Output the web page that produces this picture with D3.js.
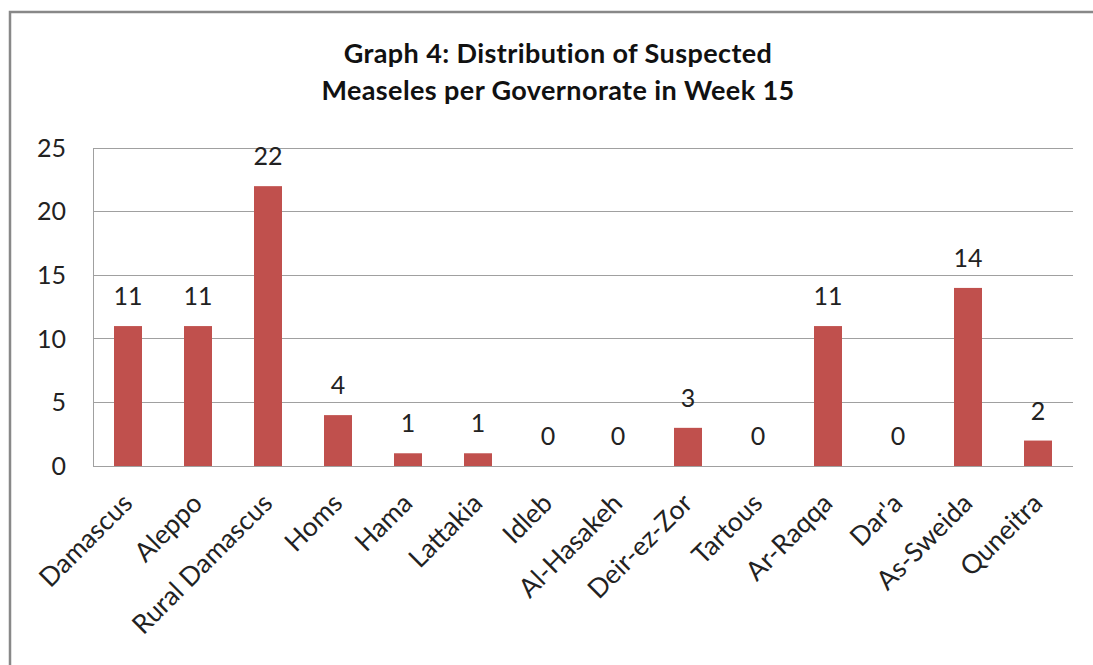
<!DOCTYPE html>
<html lang="en">
<head>
    <meta charset="UTF-8">
    <title>Graph 4: Distribution of Suspected Measeles per Governorate in Week 15</title>
    <style>
        body {
            margin: 0;
            background-color: #ffffff;
            font-family: Lato, "Open Sans", sans-serif;
        }
        .grid line, .grid path {
            stroke: #a0a0a0;
            shape-rendering: crispEdges;
        }
    </style>
    <script src="https://d3js.org/d3.v7.min.js"></script>
</head>
<body>
<div id="chart"></div>
<script>
    var governorates = ["Damascus", "Aleppo", "Rural Damascus", "Homs", "Hama", "Lattakia", "Idleb",
        "Al-Hasakeh", "Deir-ez-Zor", "Tartous", "Ar-Raqqa", "Dar'a", "As-Sweida", "Quneitra"];
    var cases = [11, 11, 22, 4, 1, 1, 0, 0, 3, 0, 11, 0, 14, 2];
    var yTicks = [0, 5, 10, 15, 20, 25];
    var titleLines = ["Graph 4: Distribution  of Suspected", "Measeles per Governorate  in Week 15"];

    var width = 1093, height = 665;
    var margin = {top: 148, right: 20, bottom: 199, left: 93};
    var barColor = "#c0504d";

    var svg = d3.select("#chart")
        .append("svg")
        .attr("width", width)
        .attr("height", height);

    // outer frame
    svg.append("rect")
        .attr("x", 10)
        .attr("y", 12)
        .attr("width", width + 20)
        .attr("height", height + 20)
        .style("fill", "none")
        .style("stroke", "#888")
        .style("stroke-width", 2.5);

    var x = d3.scaleBand()
        .domain(governorates)
        .range([margin.left, width - margin.right])
        .paddingInner(0.6)
        .paddingOuter(0.3);

    var y = d3.scaleLinear()
        .domain([0, 25])
        .range([height - margin.bottom, margin.top]);

    // title
    svg.append("text")
        .attr("text-anchor", "middle")
        .style("font-size", "27px")
        .style("font-weight", "bold")
        .style("letter-spacing", "0.4px")
        .style("fill", "#111")
        .selectAll("tspan")
        .data(titleLines)
        .enter().append("tspan")
        .attr("x", 558)
        .attr("y", function (d, i) { return 63 + i * 37; })
        .text(function (d) { return d; });

    // gridlines
    svg.append("g")
        .attr("class", "grid")
        .selectAll("line")
        .data(yTicks)
        .enter().append("line")
        .attr("x1", margin.left)
        .attr("x2", width - margin.right)
        .attr("y1", function (d) { return y(d); })
        .attr("y2", function (d) { return y(d); });

    svg.append("line")
        .attr("x1", margin.left).attr("x2", margin.left)
        .attr("y1", y(0)).attr("y2", y(25))
        .style("stroke", "#a0a0a0")
        .style("shape-rendering", "crispEdges");

    // y tick labels
    svg.append("g")
        .selectAll("text")
        .data(yTicks)
        .enter().append("text")
        .attr("x", 66)
        .attr("y", function (d) { return y(d); })
        .attr("dy", "0.35em")
        .attr("text-anchor", "end")
        .style("font-size", "25px")
        .style("fill", "#222")
        .text(function (d) { return d; });

    // bars
    svg.append("g")
        .selectAll("rect")
        .data(cases)
        .enter().append("rect")
        .attr("x", function (d, i) { return x(governorates[i]); })
        .attr("width", x.bandwidth())
        .attr("y", function (d) { return y(d); })
        .attr("height", function (d) { return y(0) - y(d); })
        .style("fill", barColor);

    // value labels
    svg.append("g")
        .selectAll("text")
        .data(cases)
        .enter().append("text")
        .attr("x", function (d, i) { return x(governorates[i]) + x.bandwidth() / 2; })
        .attr("y", function (d) { return y(d) - 21; })
        .attr("text-anchor", "middle")
        .style("font-size", "25px")
        .style("fill", "#222")
        .text(function (d) { return d; });

    // category labels
    svg.append("g")
        .selectAll("text")
        .data(governorates)
        .enter().append("text")
        .attr("transform", function (d) {
            var cx = x(d) + x.bandwidth() / 2 + 6;
            return "translate(" + cx + "," + (y(0) + 39) + ") rotate(-45)";
        })
        .attr("text-anchor", "end")
        .style("font-size", "26.5px")
        .style("fill", "#222")
        .text(function (d) { return d; });
</script>
</body>
</html>
